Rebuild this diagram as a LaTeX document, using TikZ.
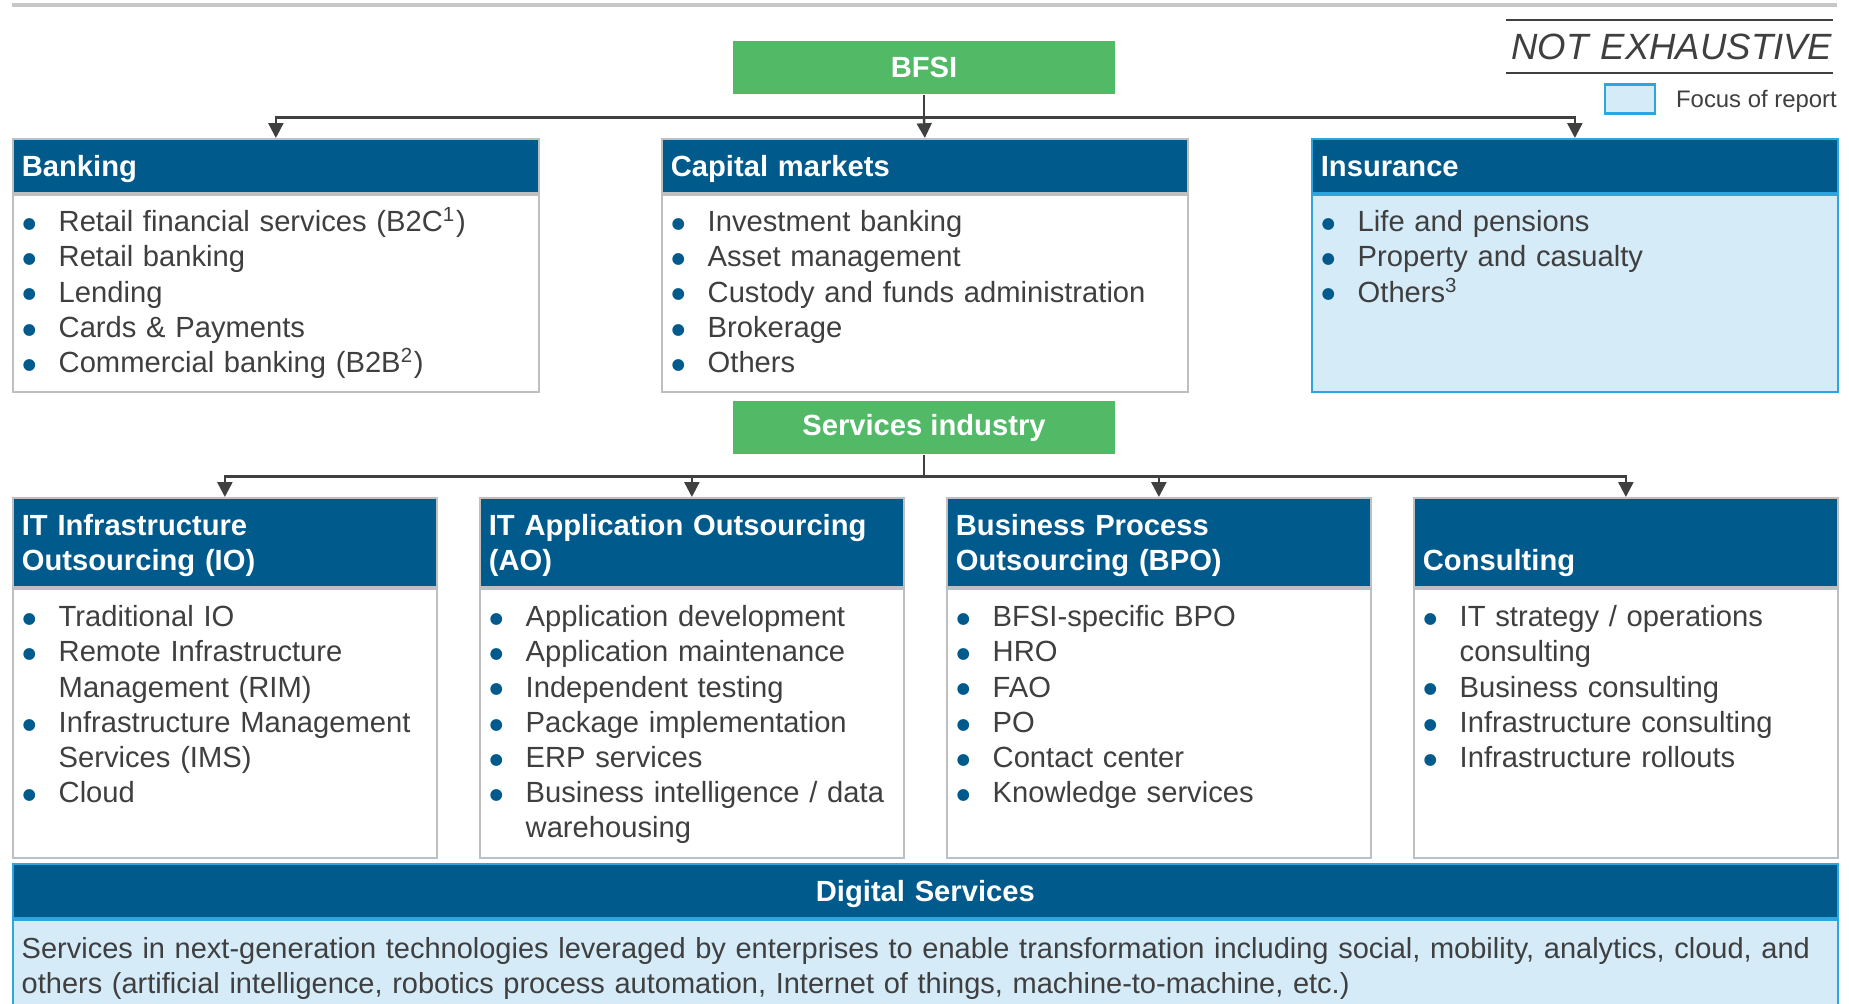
\documentclass[tikz,border=0pt]{standalone}
\usepackage{fontspec}
\setmainfont{Liberation Sans}
\newfontfamily\dotfont{DejaVu Sans}
\usepackage{tikz}
\usetikzlibrary{shapes,arrows.meta,positioning}

\definecolor{headblue}{HTML}{005A8C}
\definecolor{bfsigreen}{HTML}{52BA67}
\definecolor{focusfill}{HTML}{D5EBF8}
\definecolor{focusline}{HTML}{2BA6E0}
\definecolor{framegray}{HTML}{BFBFBF}
\definecolor{linegray}{HTML}{404040}
\definecolor{textgray}{HTML}{3F3F3F}

\newcommand{\basefont}{\fontsize{8.3}{10.0}\selectfont}
\newcommand{\bitem}[1]{\noindent\makebox[0.34cm][l]{\hspace*{-0.6pt}\raisebox{0.9pt}{\dotfont\fontsize{4.4}{5}\selectfont\textcolor{headblue}{●}}}#1\par}
\newcommand{\bcont}[1]{\noindent\hspace*{0.34cm}#1\par}
\newcommand{\headtext}[1]{\raisebox{-0.035cm}[\height][\depth]{\begin{tabular}{@{}l@{}}#1\end{tabular}}}

\begin{document}
\begin{tikzpicture}[font=\basefont, text=textgray]
    \useasboundingbox (0,0) rectangle (18.49,-10.04);
    \clip (0,0) rectangle (18.49,-10.04);
    % Define styles
    \tikzstyle{sector} = [rectangle, fill=bfsigreen, text=white, font=\basefont\bfseries, minimum width=3.82cm, minimum height=0.53cm, inner sep=0]
    \tikzstyle{head} = [rectangle, draw=framegray, line width=0.5pt, fill=headblue, text=white, font=\basefont\bfseries, align=left, inner xsep=0.09cm, inner ysep=0, anchor=north west]
    \tikzstyle{body} = [rectangle, draw=framegray, line width=0.5pt, fill=white, inner sep=0, anchor=north]
    \tikzstyle{focus} = [draw=focusline, fill=focusfill]
    \tikzstyle{list} = [anchor=base west, inner sep=0, text width=5.4cm, align=left]
    \tikzstyle{bus} = [draw=linegray, line width=0.7pt]
    \tikzstyle{arrow} = [draw=linegray, line width=0.7pt, -{Triangle[length=4.2pt,width=4.2pt]}]

    % Top rule and note
    \draw [framegray!85!black!60, line width=0.9pt] (0.12,-0.05) -- (18.37,-0.05);
    \node [anchor=east, text width=3.26cm, minimum height=0.51cm, inner xsep=0, inner ysep=0, align=right, font=\fontsize{10.4}{11}\selectfont\itshape] (notex) at (18.33,-0.465) {NOT EXHAUSTIVE};
    \draw [linegray, line width=0.6pt] (notex.north west) -- (notex.north east);
    \draw [linegray, line width=0.6pt] (notex.south west) -- (notex.south east);
    \node [rectangle, focus, line width=0.8pt, minimum width=0.5cm, minimum height=0.29cm, inner sep=0] (legend) at (16.30,-0.99) {};
    \node [right=0.19cm of legend, yshift=-0.02cm, inner sep=0, font=\fontsize{6.8}{8}\selectfont] (legendtext) {Focus of report};

    % BFSI segments
    \node [sector] (bfsi) at (9.24,-0.675) {BFSI};
    \node [head, text width=5.08cm, minimum height=0.54cm] (bank) at (0.12,-1.38) {\headtext{Banking}};
    \node [head, text width=5.08cm, minimum height=0.54cm] (cap) at (6.61,-1.38) {\headtext{Capital markets}};
    \node [head, draw=focusline, text width=5.08cm, minimum height=0.54cm] (ins) at (13.11,-1.38) {\headtext{Insurance}};
    \node [body, minimum width=5.26cm, minimum height=1.97cm] (bankbody) at (bank.south) {};
    \node [body, minimum width=5.26cm, minimum height=1.97cm] (capbody) at (cap.south) {};
    \node [body, focus, minimum width=5.26cm, minimum height=1.97cm] (insbody) at (ins.south) {};
    \node [list] (banklist) at ([shift={(0.12,-0.38)}]bankbody.north west) {\bitem{Retail financial services (B2C\textsuperscript{1})}\bitem{Retail banking}\bitem{Lending}\bitem{Cards \& Payments}\bitem{Commercial banking (B2B\textsuperscript{2})}};
    \node [list] (caplist) at ([shift={(0.12,-0.38)}]capbody.north west) {\bitem{Investment banking}\bitem{Asset management}\bitem{Custody and funds administration}\bitem{Brokerage}\bitem{Others}};
    \node [list] (inslist) at ([shift={(0.12,-0.38)}]insbody.north west) {\bitem{Life and pensions}\bitem{Property and casualty}\bitem{Others\textsuperscript{3}}};

    % Services segments
    \node [sector] (services) at (9.24,-4.275) {Services industry};
    \node [head, text width=4.06cm, minimum height=0.89cm] (io) at (0.12,-4.97) {\headtext{IT Infrastructure\\Outsourcing (IO)}};
    \node [head, text width=4.06cm, minimum height=0.89cm] (ao) at (4.79,-4.97) {\headtext{IT Application Outsourcing\\(AO)}};
    \node [head, text width=4.06cm, minimum height=0.89cm] (bpo) at (9.46,-4.97) {\headtext{Business Process\\Outsourcing (BPO)}};
    \node [head, text width=4.06cm, minimum height=0.89cm] (cons) at (14.13,-4.97) {\headtext{\\Consulting}};
    \node [body, minimum width=4.24cm, minimum height=2.69cm] (iobody) at (io.south) {};
    \node [body, minimum width=4.24cm, minimum height=2.69cm] (aobody) at (ao.south) {};
    \node [body, minimum width=4.24cm, minimum height=2.69cm] (bpobody) at (bpo.south) {};
    \node [body, minimum width=4.24cm, minimum height=2.69cm] (consbody) at (cons.south) {};
    \node [list] (iolist) at ([shift={(0.12,-0.39)}]iobody.north west) {\bitem{Traditional IO}\bitem{Remote Infrastructure}\bcont{Management (RIM)}\bitem{Infrastructure Management}\bcont{Services (IMS)}\bitem{Cloud}};
    \node [list] (aolist) at ([shift={(0.12,-0.39)}]aobody.north west) {\bitem{Application development}\bitem{Application maintenance}\bitem{Independent testing}\bitem{Package implementation}\bitem{ERP services}\bitem{Business intelligence / data}\bcont{warehousing}};
    \node [list] (bpolist) at ([shift={(0.12,-0.39)}]bpobody.north west) {\bitem{BFSI-specific BPO}\bitem{HRO}\bitem{FAO}\bitem{PO}\bitem{Contact center}\bitem{Knowledge services}};
    \node [list] (conslist) at ([shift={(0.12,-0.39)}]consbody.north west) {\bitem{IT strategy / operations}\bcont{consulting}\bitem{Business consulting}\bitem{Infrastructure consulting}\bitem{Infrastructure rollouts}};

    % Digital services
    \node [head, draw=focusline, text width=18.07cm, align=center, minimum height=0.54cm] (digital) at (0.12,-8.63) {\headtext{Digital Services}};
    \node [body, focus, minimum width=18.25cm, minimum height=1.1cm] (digitalbody) at (digital.south) {};
    \node [list, text width=18.1cm, font=\fontsize{8.25}{10.0}\selectfont] (digitaltext) at ([shift={(0.09,-0.40)}]digitalbody.north west) {Services in next-generation technologies leveraged by enterprises to enable transformation including social, mobility, analytics, cloud, and\\others (artificial intelligence, robotics process automation, Internet of things, machine-to-machine, etc.)};

    % Arrows
    \draw [bus] (bfsi.south) -- ++(0,-0.23) coordinate (bus1);
    \draw [arrow] (bus1) -| (bank.north);
    \draw [arrow] (bus1) -- (cap.north);
    \draw [arrow] (bus1) -| (ins.north);
    \draw [bus] (services.south) -- ++(0,-0.22) coordinate (bus2);
    \draw [arrow] (bus2) -| (io.north);
    \draw [arrow] (bus2) -| (ao.north);
    \draw [arrow] (bus2) -| (bpo.north);
    \draw [arrow] (bus2) -| (cons.north);
\end{tikzpicture}
\end{document}
